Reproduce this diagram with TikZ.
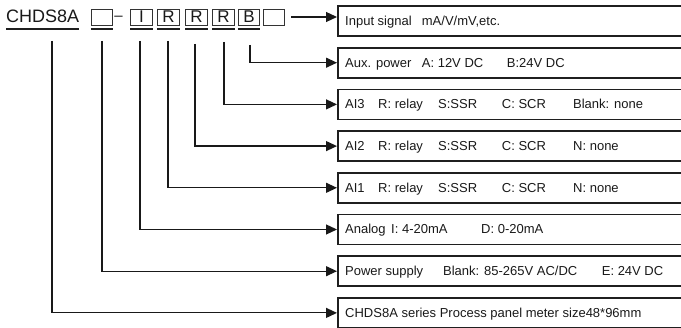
\documentclass[tikz,border=0pt]{standalone}
\usepackage{fontspec}
\setmainfont{Liberation Sans}
\usetikzlibrary{arrows.meta}
\begin{document}
\begin{tikzpicture}[x=1pt,y=-1pt,
  box/.style={draw=black!88, line width=1.7pt, minimum width=360pt, minimum height=30pt, inner sep=0pt, anchor=west},
  txt/.style={anchor=base west, inner sep=0pt, font=\fontsize{13}{15}\selectfont, text=black!90},
  code/.style={font=\fontsize{18}{20}\selectfont, inner sep=0pt, text=black!90},
  cbox/.style={draw=black!80, line width=0.9pt, minimum width=21.5pt, minimum height=16pt, inner sep=0pt, font=\fontsize{17}{20}\selectfont, text=black!90},
  uline/.style={line width=1.6pt, draw=black!88},
  conn/.style={line width=1.2pt, draw=black!90, -{Triangle[length=11pt,width=10pt]}}
]
\useasboundingbox (0,0) rectangle (681,328);
\clip (0,0) rectangle (681,328);

% model code line
\node[code, anchor=base west] (model) at (6,23) {CHDS8A};
\node[cbox] (c1) at (102,17) {};
\node[code, anchor=base, font=\fontsize{15}{18}\selectfont] (dash) at (118.5,21) {–};
\node[cbox] (c2) at (141.5,17) {I};
\node[cbox] (c3) at (168.5,17) {R};
\node[cbox] (c4) at (196.5,17) {R};
\node[cbox] (c5) at (223.5,17) {R};
\node[cbox] (c6) at (249,17) {B};
\node[cbox] (c7) at (274,17) {};

\foreach \n in {model,c1,c2,c3,c4,c5,c6}
  \draw[uline] (\n.west |- 0,29) -- (\n.east |- 0,29);

% description boxes
\node[box] (b1) at (337,21) {};
\node[box] (b2) at (337,62.7) {};
\node[box] (b3) at (337,104.4) {};
\node[box] (b4) at (337,146.1) {};
\node[box] (b5) at (337,187.8) {};
\node[box] (b6) at (337,229.5) {};
\node[box] (b7) at (337,271.2) {};
\node[box] (b8) at (337,312.9) {};

\node[txt] (t1) at ([xshift=8pt,yshift=-4.5pt]b1.west) {\makebox[76.7pt][l]{Input signal}mA/V/mV,etc.};
\node[txt] (t2) at ([xshift=8pt,yshift=-4.5pt]b2.west) {\makebox[76.7pt][l]{Aux. power}\makebox[85pt][l]{A: 12V DC}B:24V DC};
\node[txt] (t3) at ([xshift=8pt,yshift=-4.5pt]b3.west) {\makebox[33pt][l]{AI3}\makebox[60pt][l]{R: relay}\makebox[63.7pt][l]{S:SSR}\makebox[71.3pt][l]{C: SCR}Blank: none};
\node[txt] (t4) at ([xshift=8pt,yshift=-4.5pt]b4.west) {\makebox[33pt][l]{AI2}\makebox[60pt][l]{R: relay}\makebox[63.7pt][l]{S:SSR}\makebox[71.3pt][l]{C: SCR}N: none};
\node[txt] (t5) at ([xshift=8pt,yshift=-4.5pt]b5.west) {\makebox[33pt][l]{AI1}\makebox[60pt][l]{R: relay}\makebox[63.7pt][l]{S:SSR}\makebox[71.3pt][l]{C: SCR}N: none};
\node[txt] (t6) at ([xshift=8pt,yshift=-4.5pt]b6.west) {\makebox[46pt][l]{Analog}\makebox[90pt][l]{I: 4-20mA}D: 0-20mA};
\node[txt] (t7) at ([xshift=8pt,yshift=-4.5pt]b7.west) {\makebox[98pt][l]{Power supply}\makebox[158.7pt][l]{Blank: 85-265V AC/DC}E: 24V DC};
\node[txt] (t8) at ([xshift=8pt,yshift=-4.5pt]b8.west) {CHDS8A series Process panel meter size48*96mm};

% connectors
\coordinate (s8) at (52,41);
\coordinate (s7) at (102,41);
\coordinate (s6) at (140,41);
\coordinate (s5) at (168,41);
\coordinate (s4) at (195,44);
\coordinate (s3) at (224,42);
\coordinate (s2) at (250,45);

\draw[conn] ([xshift=6pt]c7.east) -- (c7.east -| b1.west);
\draw[conn] (s2) |- (b2.west);
\draw[conn] (s3) |- (b3.west);
\draw[conn] (s4) |- (b4.west);
\draw[conn] (s5) |- (b5.west);
\draw[conn] (s6) |- (b6.west);
\draw[conn] (s7) |- (b7.west);
\draw[conn] (s8) |- (b8.west);
\end{tikzpicture}
\end{document}
